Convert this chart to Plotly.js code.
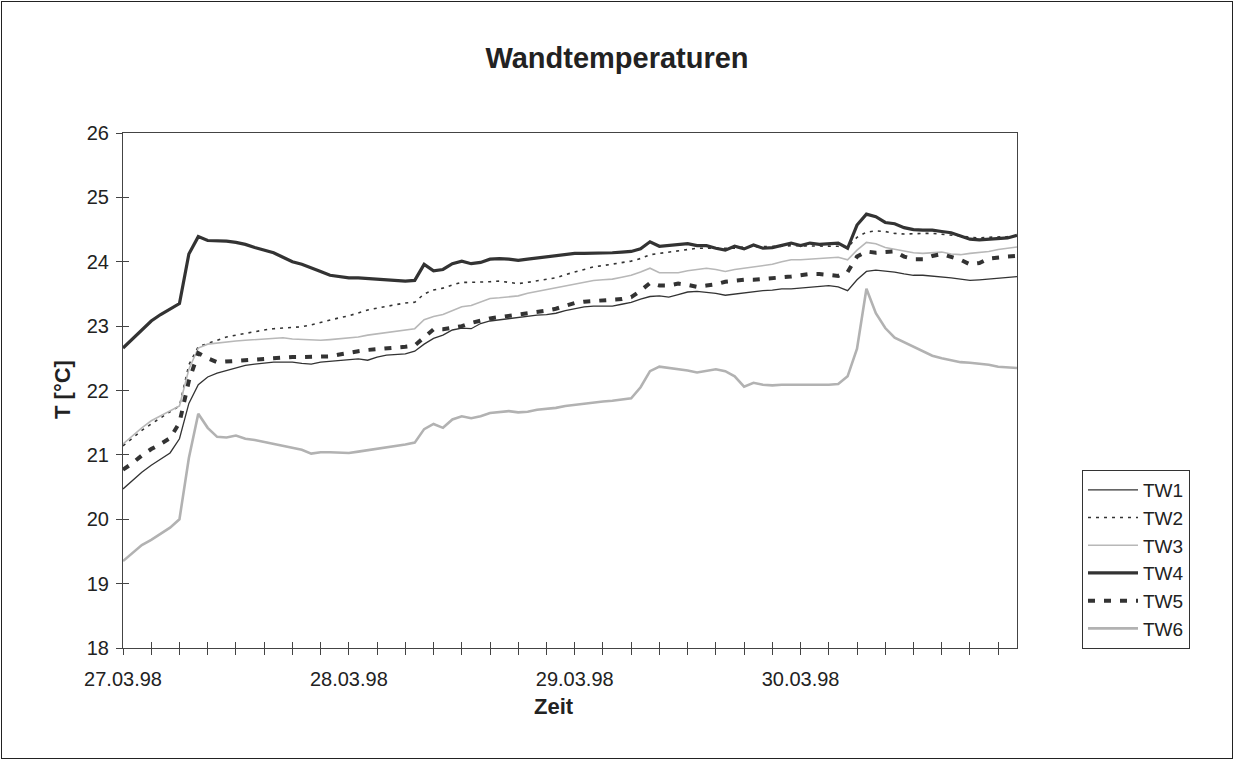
<!DOCTYPE html>
<html>
<head>
<meta charset="utf-8">
<script src="https://cdn.plot.ly/plotly-3.0.1.min.js"></script>
<style>
  html, body { margin: 0; padding: 0; background: #fff; }
  #wrap { position: relative; width: 1234px; height: 760px; }
  #chart { width: 1234px; height: 760px; }
  #frame { position: absolute; left: 1px; top: 1px; width: 1230px; height: 756px; border: 1px solid #222; pointer-events: none; }
</style>
</head>
<body>
<div id="wrap"><div id="chart"></div><div id="frame"></div></div>
<script>
// Hourly readings from 27.03.98 00:00 to 30.03.98 23:00 (°C)
const seriesNames = ['TW1', 'TW2', 'TW3', 'TW4', 'TW5', 'TW6'];
const startDate = '1998-03-27T00:00:00Z';
const dayLabels = ['27.03.98', '28.03.98', '29.03.98', '30.03.98'];
const yTicks = [18, 19, 20, 21, 22, 23, 24, 25, 26];

const TW1 = [20.47,20.60,20.73,20.84,20.93,21.03,21.25,21.80,22.09,22.21,22.27,22.31,22.35,22.39,22.41,22.43,22.44,22.44,22.44,22.42,22.41,22.44,22.45,22.47,
             22.48,22.49,22.47,22.52,22.55,22.56,22.57,22.61,22.72,22.81,22.86,22.94,22.97,22.96,23.04,23.08,23.10,23.12,23.14,23.16,23.17,23.18,23.20,23.24,
             23.27,23.30,23.31,23.31,23.31,23.34,23.37,23.42,23.46,23.47,23.45,23.49,23.53,23.54,23.53,23.51,23.48,23.50,23.52,23.54,23.55,23.56,23.58,23.58,
             23.59,23.60,23.61,23.63,23.61,23.55,23.72,23.85,23.87,23.86,23.84,23.81,23.79,23.79,23.78,23.77,23.75,23.73,23.71,23.72,23.73,23.74,23.76,23.77];
const TW2 = [21.14,21.26,21.38,21.48,21.58,21.67,21.76,22.40,22.68,22.73,22.78,22.83,22.86,22.89,22.92,22.94,22.96,22.97,22.98,22.99,23.02,23.06,23.09,23.13,
             23.16,23.21,23.25,23.28,23.31,23.34,23.36,23.37,23.50,23.56,23.59,23.64,23.68,23.68,23.68,23.69,23.70,23.68,23.66,23.68,23.70,23.72,23.75,23.80,
             23.84,23.89,23.92,23.94,23.96,23.98,24.01,24.05,24.11,24.13,24.15,24.18,24.20,24.21,24.21,24.21,24.20,24.21,24.23,24.23,24.23,24.23,24.24,24.25,
             24.25,24.25,24.25,24.25,24.24,24.22,24.38,24.46,24.48,24.47,24.44,24.43,24.44,24.44,24.44,24.43,24.42,24.40,24.38,24.37,24.38,24.38,24.39,24.40];
const TW3 = [21.17,21.30,21.42,21.53,21.61,21.69,21.76,22.33,22.66,22.72,22.74,22.76,22.77,22.78,22.79,22.80,22.81,22.82,22.80,22.79,22.78,22.78,22.79,22.80,
             22.81,22.83,22.86,22.88,22.90,22.92,22.94,22.96,23.10,23.15,23.18,23.24,23.30,23.32,23.37,23.43,23.44,23.46,23.47,23.51,23.54,23.56,23.59,23.63,
             23.66,23.69,23.71,23.72,23.73,23.76,23.79,23.84,23.90,23.83,23.83,23.83,23.86,23.88,23.90,23.88,23.85,23.88,23.90,23.93,23.95,23.96,24.00,24.03,
             24.03,24.04,24.05,24.06,24.07,24.03,24.18,24.30,24.28,24.22,24.19,24.16,24.14,24.13,24.14,24.15,24.12,24.11,24.13,24.14,24.16,24.19,24.21,24.23];
const TW4 = [22.66,22.80,22.94,23.08,23.18,23.27,23.35,24.12,24.39,24.33,24.33,24.32,24.30,24.27,24.22,24.18,24.14,24.07,24.00,23.96,23.91,23.85,23.79,23.77,
             23.75,23.75,23.74,23.74,23.72,23.72,23.70,23.71,23.96,23.86,23.88,23.97,24.01,23.97,23.99,24.04,24.05,24.04,24.02,24.04,24.06,24.08,24.09,24.11,
             24.13,24.13,24.13,24.14,24.14,24.15,24.16,24.20,24.31,24.24,24.25,24.26,24.28,24.25,24.25,24.21,24.18,24.24,24.20,24.26,24.21,24.22,24.25,24.29,
             24.25,24.29,24.27,24.28,24.29,24.21,24.57,24.74,24.70,24.61,24.59,24.53,24.50,24.49,24.49,24.47,24.45,24.40,24.35,24.34,24.35,24.36,24.37,24.41];
const TW5 = [20.77,20.87,20.99,21.09,21.17,21.26,21.50,22.15,22.58,22.50,22.44,22.45,22.46,22.47,22.48,22.50,22.51,22.52,22.52,22.52,22.52,22.52,22.53,22.56,
             22.59,22.61,22.63,22.64,22.65,22.66,22.68,22.70,22.82,22.95,22.95,22.97,23.00,23.05,23.09,23.12,23.14,23.16,23.17,23.19,23.22,23.24,23.27,23.31,
             23.36,23.38,23.39,23.39,23.40,23.42,23.45,23.55,23.67,23.63,23.63,23.66,23.64,23.61,23.63,23.65,23.69,23.71,23.72,23.72,23.73,23.74,23.75,23.77,
             23.79,23.81,23.81,23.79,23.78,23.84,24.08,24.16,24.14,24.15,24.16,24.08,24.04,24.04,24.09,24.12,24.07,24.03,23.96,23.98,24.05,24.07,24.08,24.09];
const TW6 = [19.35,19.48,19.60,19.68,19.77,19.87,20.00,20.95,21.64,21.42,21.28,21.27,21.30,21.25,21.23,21.20,21.18,21.15,21.12,21.08,21.02,21.04,21.04,21.03,
             21.03,21.05,21.07,21.09,21.11,21.13,21.16,21.19,21.40,21.48,21.42,21.55,21.60,21.57,21.60,21.65,21.67,21.68,21.66,21.67,21.70,21.71,21.73,21.76,
             21.78,21.80,21.82,21.83,21.84,21.86,21.88,22.05,22.30,22.37,22.35,22.34,22.31,22.28,22.31,22.33,22.30,22.22,22.06,22.12,22.09,22.08,22.09,22.09,
             22.08,22.08,22.08,22.09,22.10,22.22,22.65,23.58,23.20,22.97,22.82,22.75,22.67,22.60,22.54,22.50,22.47,22.44,22.43,22.42,22.40,22.37,22.36,22.35];

const seriesValues = [TW1, TW2, TW3, TW4, TW5, TW6];

const FONT = 'Liberation Sans, Arial, Helvetica, sans-serif';
const t0 = Date.parse(startDate);
const HOUR = 3600 * 1000;
function iso(ms) { return new Date(ms).toISOString().slice(0, 19).replace('T', ' '); }
const times = TW1.map((_, i) => iso(t0 + i * HOUR));

// 3-hour tick positions, labels on each midnight
const tickVals = [], tickText = [];
for (let h = 0; h <= 93; h += 3) {
  tickVals.push(iso(t0 + h * HOUR));
  tickText.push(h % 24 === 0 ? dayLabels[h / 24] : '');
}
const xRange = [times[0], times[times.length - 1]];

const styles = [
  { color: '#333333', width: 1.3 },
  { color: '#333333', width: 1.6, dash: '3px,5px' },
  { color: '#b8b8b8', width: 1.6 },
  { color: '#333333', width: 3.2 },
  { color: '#333333', width: 4, dash: '7px,9px' },
  { color: '#b2b2b2', width: 2.6 }
];

const traces = seriesNames.map((name, i) => ({
  type: 'scatter', mode: 'lines', name: name,
  x: times, y: seriesValues[i],
  line: styles[i], hoverinfo: 'x+y+name'
}));
// helper axes to make the ticks cross the axis lines
traces.push({ type: 'scatter', mode: 'lines', x: [], y: [], xaxis: 'x2', yaxis: 'y2', showlegend: false, hoverinfo: 'skip' });

const axisLine = '#444444';
const layout = {
  width: 1234, height: 760, autosize: false,
  margin: { l: 123, r: 217, t: 133, b: 112, pad: 0 },
  paper_bgcolor: '#ffffff', plot_bgcolor: '#ffffff',
  font: { family: FONT, color: '#222222', size: 20 },
  title: {
    text: '<b>Wandtemperaturen</b>',
    font: { family: FONT, size: 29, color: '#222222' },
    x: 0.5, xref: 'container', xanchor: 'center',
    y: 1 - 58 / 760, yref: 'container', yanchor: 'middle'
  },
  showlegend: true,
  legend: {
    x: (1082 - 123) / 894, y: (648 - 470) / 515, xanchor: 'left', yanchor: 'top',
    font: { family: FONT, size: 19, color: '#222222' },
    bgcolor: '#ffffff', bordercolor: '#333333', borderwidth: 1,
    itemwidth: 50, tracegroupgap: 0
  },
  xaxis: {
    type: 'date', range: xRange,
    tickmode: 'array', tickvals: tickVals, ticktext: tickText,
    ticks: 'outside', ticklen: 6, tickwidth: 1, tickcolor: axisLine,
    ticklabelstandoff: 7,
    showline: true, linecolor: axisLine, linewidth: 1, mirror: true,
    showgrid: false, zeroline: false,
    tickfont: { family: FONT, size: 20, color: '#222222' }
  },
  yaxis: {
    range: [18, 26], tickmode: 'array', tickvals: yTicks,
    ticks: 'outside', ticklen: 6, tickwidth: 1, tickcolor: axisLine,
    ticklabelstandoff: 3,
    showline: true, linecolor: axisLine, linewidth: 1, mirror: true,
    showgrid: false, zeroline: false,
    tickfont: { family: FONT, size: 20, color: '#222222' }
  },
  xaxis2: {
    type: 'date', range: xRange, overlaying: 'x', anchor: 'y', side: 'bottom',
    tickmode: 'array', tickvals: tickVals,
    ticks: 'inside', ticklen: 6, tickwidth: 1, tickcolor: axisLine,
    showticklabels: false, showline: false, showgrid: false, zeroline: false
  },
  yaxis2: {
    range: [18, 26], overlaying: 'y', anchor: 'x', side: 'left',
    tickmode: 'array', tickvals: yTicks,
    ticks: 'inside', ticklen: 6, tickwidth: 1, tickcolor: axisLine,
    showticklabels: false, showline: false, showgrid: false, zeroline: false
  },
  annotations: [
    { text: '<b>Zeit</b>', xref: 'paper', yref: 'paper', x: (554 - 123) / 894, y: (648 - 706) / 515,
      xanchor: 'center', yanchor: 'middle', showarrow: false, font: { family: FONT, size: 22, color: '#222222' } },
    { text: '<b>T [°C]</b>', xref: 'paper', yref: 'paper', x: (62 - 123) / 894, y: (648 - 390) / 515,
      xanchor: 'center', yanchor: 'middle', textangle: -90, showarrow: false, font: { family: FONT, size: 22, color: '#222222' } }
  ]
};

Plotly.newPlot('chart', traces, layout, { displayModeBar: false, staticPlot: true });
</script>
</body>
</html>
